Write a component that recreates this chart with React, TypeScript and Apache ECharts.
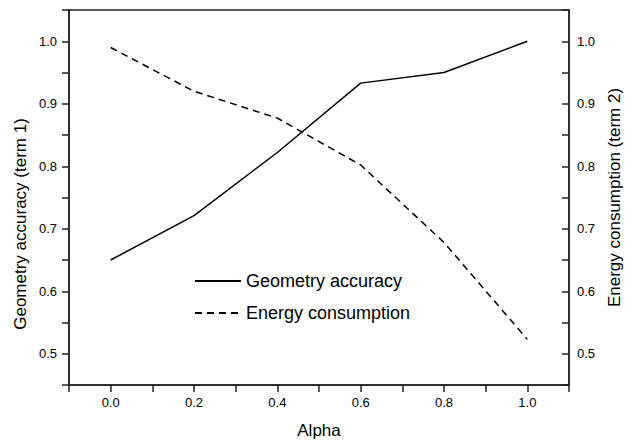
import React, { useEffect, useRef } from "react";
import * as echarts from "echarts";

const alpha = [0.0, 0.2, 0.4, 0.6, 0.8, 1.0];
const geometryAccuracy = [0.65, 0.721, 0.822, 0.933, 0.95, 1.0];
const energyConsumption = [0.99, 0.92, 0.877, 0.802, 0.678, 0.523];
const seriesNames = ["Geometry accuracy", "Energy consumption"];
const axisTitles = {
  x: "Alpha",
  yLeft: "Geometry accuracy (term 1)",
  yRight: "Energy consumption (term 2)",
};

const FONT = "'Liberation Sans', Arial, Helvetica, sans-serif";

export default function App() {
  const ref = useRef<HTMLDivElement>(null);
  useEffect(() => {
    if (!ref.current) return;
    const chart = echarts.init(ref.current, undefined, { renderer: "svg" });
    const axisLine = { show: true, onZero: false, lineStyle: { color: "#222", width: 1.5 } };
    const yLabelFmt = (v: number) => {
      const r = Math.round(v * 100);
      return r % 10 === 0 ? (r / 100).toFixed(1) : "";
    };
    const xLabelFmt = (v: number) => {
      const r = Math.round(v * 10);
      return r >= 0 && r <= 10 && r % 2 === 0 ? (r / 10).toFixed(1) : "";
    };
    chart.setOption({
      animation: false,
      backgroundColor: "#fff",
      textStyle: { fontFamily: FONT },
      grid: {
        left: 69,
        right: 61,
        top: 10,
        bottom: 59,
        show: true,
        borderColor: "#222",
        borderWidth: 1.5,
      },
      legend: {
        orient: "vertical",
        left: 189,
        top: 267,
        itemWidth: 46,
        itemHeight: 14,
        itemGap: 14,
        itemStyle: { opacity: 0 },
        textStyle: { fontSize: 18, color: "#000", fontFamily: FONT },
        data: seriesNames,
      },
      xAxis: {
        type: "value",
        min: -0.1,
        max: 1.1,
        interval: 0.1,
        name: axisTitles.x,
        nameLocation: "middle",
        nameGap: 37,
        nameTextStyle: { fontSize: 17, color: "#000", fontFamily: FONT },
        axisLine,
        axisTick: { show: true, inside: false, length: 7, lineStyle: { color: "#222", width: 1.5 } },
        axisLabel: { formatter: xLabelFmt, fontSize: 13, color: "#000", margin: 11, fontFamily: FONT },
        splitLine: { show: false },
      },
      yAxis: [
        {
          type: "value",
          position: "left",
          min: 0.45,
          max: 1.05,
          interval: 0.05,
          axisLine,
          axisTick: { show: true, inside: false, length: 7, lineStyle: { color: "#222", width: 1.5 } },
          axisLabel: { formatter: yLabelFmt, fontSize: 13, color: "#000", margin: 12, fontFamily: FONT },
          splitLine: { show: false },
        },
        {
          type: "value",
          position: "right",
          min: 0.45,
          max: 1.05,
          interval: 0.05,
          name: axisTitles.yRight,
          nameLocation: "middle",
          nameRotate: 90,
          nameGap: 34,
          nameTextStyle: { fontSize: 17, color: "#000", fontFamily: FONT },
          axisLine,
          axisTick: { show: true, inside: true, length: 7, lineStyle: { color: "#222", width: 1.5 } },
          axisLabel: { formatter: yLabelFmt, fontSize: 13, color: "#000", margin: 8, fontFamily: FONT },
          splitLine: { show: false },
        },
      ],
      graphic: [
        {
          type: "text",
          x: 20,
          y: 224,
          rotation: Math.PI / 2,
          style: {
            text: axisTitles.yLeft,
            font: `17px ${FONT}`,
            fill: "#000",
            textAlign: "center",
            textVerticalAlign: "middle",
          },
        },
      ],
      series: [
        {
          name: seriesNames[0],
          type: "line",
          yAxisIndex: 0,
          symbol: "none",
          data: alpha.map((a, i) => [a, geometryAccuracy[i]]),
          lineStyle: { color: "#000", width: 1.5, type: "solid" },
          itemStyle: { color: "#000" },
        },
        {
          name: seriesNames[1],
          type: "line",
          yAxisIndex: 1,
          symbol: "none",
          data: alpha.map((a, i) => [a, energyConsumption[i]]),
          lineStyle: { color: "#000", width: 1.5, type: [7, 5] },
          itemStyle: { color: "#000" },
        },
      ],
    });
    return () => chart.dispose();
  }, []);
  return <div ref={ref} style={{ width: 631, height: 444, position: "absolute", left: 0, top: 0 }} />;
}
